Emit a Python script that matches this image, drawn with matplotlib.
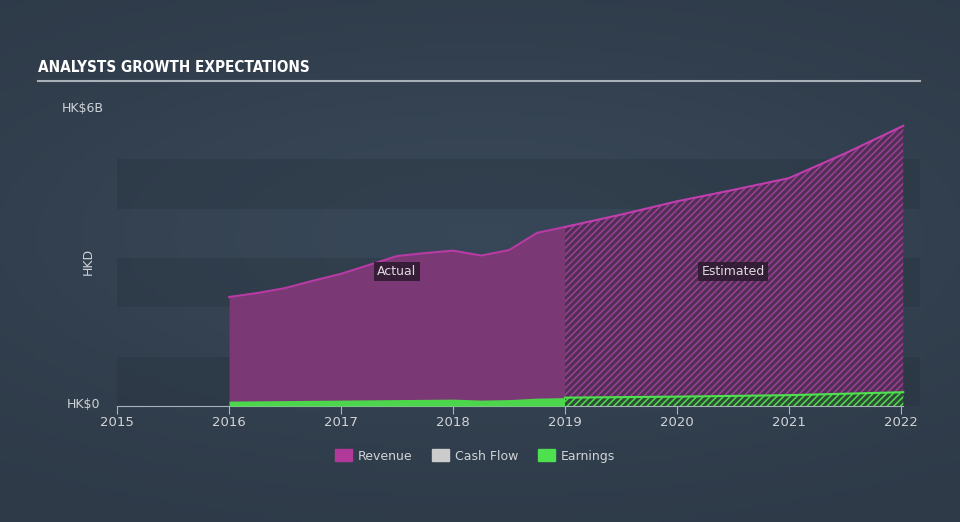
import matplotlib.pyplot as plt
import numpy as np
from matplotlib.patches import Patch

# revenue, HK$ billions
rev_act_x = [2016.0, 2016.25, 2016.5, 2016.75, 2017.0, 2017.25, 2017.5, 2017.75,
             2018.0, 2018.25, 2018.5, 2018.75, 2019.0]
rev_act_y = [2.21, 2.29, 2.39, 2.54, 2.68, 2.86, 3.04, 3.10,
             3.15, 3.05, 3.16, 3.51, 3.63]
rev_est_x = [2019.0, 2019.5, 2020.0, 2020.5, 2021.0, 2021.5, 2022.02]
rev_est_y = [3.63, 3.88, 4.15, 4.38, 4.62, 5.12, 5.68]

# earnings, HK$ billions
earn_act_x = [2016.0, 2016.5, 2017.0, 2017.5, 2018.0, 2018.25, 2018.5, 2018.75, 2019.0]
earn_act_y = [0.10, 0.11, 0.12, 0.13, 0.14, 0.12, 0.13, 0.16, 0.17]
earn_est_x = [2019.0, 2020.0, 2021.0, 2022.02]
earn_est_y = [0.17, 0.19, 0.22, 0.28]

years = [2015, 2016, 2017, 2018, 2019, 2020, 2021, 2022]

bg = '#323f4e'
txt = '#d0d4d8'
plt.rcParams['hatch.linewidth'] = 1.2

fig = plt.figure(figsize=(9.6, 5.22), dpi=100)
fig.patch.set_facecolor(bg)

# soft background gradient
bgax = fig.add_axes([0, 0, 1, 1], zorder=-10)
gx, gy = np.meshgrid(np.linspace(-1, 1, 200), np.linspace(-1, 1, 120))
grad = np.exp(-(gx**2 * 0.8 + (gy + 0.1)**2 * 1.5))
bgax.imshow(grad, cmap=plt.matplotlib.colors.LinearSegmentedColormap.from_list(
    'bg', ['#2e3a48', '#384757']), aspect='auto', extent=[0, 1, 0, 1])
bgax.axis('off')

ax = fig.add_axes([0.1219, 0.2222, 0.8365, 0.567])
ax.set_facecolor('none')
ax.set_xlim(2015, 2022.17)
ax.set_ylim(0, 6)

# horizontal bands
for lo in [0, 2, 4]:
    ax.axhspan(lo, lo + 1, color='#26313d', alpha=0.35, lw=0, zorder=0)

# revenue
ax.fill_between(rev_act_x, 0, rev_act_y, color='#7a3874', lw=0, zorder=2)
ax.plot(rev_act_x, rev_act_y, color='#b83aa4', lw=1.5, zorder=3)
ax.fill_between(rev_est_x, 0, rev_est_y, facecolor='#4f3054', edgecolor='#9a3e92',
                hatch='/////', lw=0, zorder=2)
ax.plot(rev_est_x, rev_est_y, color='#c23eaf', lw=1.5, zorder=3)

# earnings
ax.fill_between(earn_act_x, 0, earn_act_y, color='#4cd64c', lw=0, zorder=4)
ax.fill_between(earn_est_x, 0, earn_est_y, facecolor='#2f4a36', edgecolor='#4cd64c',
                hatch='/////', lw=0, zorder=4)
ax.plot(earn_est_x, earn_est_y, color='#4ee04e', lw=1.5, zorder=5)

for s in ['top', 'right', 'left']:
    ax.spines[s].set_visible(False)
ax.spines['bottom'].set_color('#aab4be')
ax.spines['bottom'].set_bounds(2015, 2022.02)
ax.set_xticks(years)
ax.set_xticklabels([str(y) for y in years])
ax.tick_params(axis='x', colors='#aab4be', labelcolor=txt, length=6, labelsize=9.5, pad=1)
ax.set_yticks([])

ax.text(2017.5, 2.72, 'Actual', color='#e0d8e0', fontsize=9, ha='center', va='center',
        bbox=dict(boxstyle='square,pad=0.25', fc='#2a1a2e', ec='none', alpha=0.85), zorder=6)
ax.text(2020.5, 2.72, 'Estimated', color='#e0d8e0', fontsize=9, ha='center', va='center',
        bbox=dict(boxstyle='square,pad=0.25', fc='#2a1a2e', ec='none', alpha=0.85), zorder=6)

fig.text(62 / 960, 1 - 108 / 522, 'HK$6B', color=txt, fontsize=9, va='center')
fig.text(67 / 960, 1 - 404 / 522, 'HK$0', color=txt, fontsize=9, va='center')
fig.text(88 / 960, 1 - 261 / 522, 'HKD', color=txt, fontsize=9, va='center', ha='center',
         rotation=90)

fig.text(38 / 960, 1 - 68 / 522, 'ANALYSTS GROWTH EXPECTATIONS', color='white',
         fontsize=11, fontweight='bold', fontstretch='condensed',
         family=['DejaVu Sans'], va='center')
fig.add_artist(plt.Line2D([38 / 960, 920 / 960], [1 - 81 / 522, 1 - 81 / 522],
                          color='#a8b0b8', lw=1.5))

handles = [Patch(color='#b0399a', label='Revenue'),
           Patch(color='#cccccc', label='Cash Flow'),
           Patch(color='#4fe04f', label='Earnings')]
leg = fig.legend(handles=handles, loc='center', bbox_to_anchor=(0.495, 1 - 456 / 522),
                 ncol=3, frameon=False, fontsize=9, handlelength=1.3, handleheight=1.1,
                 columnspacing=1.6, handletextpad=0.5)
for t in leg.get_texts():
    t.set_color(txt)

plt.savefig('out.png', facecolor=fig.get_facecolor())
